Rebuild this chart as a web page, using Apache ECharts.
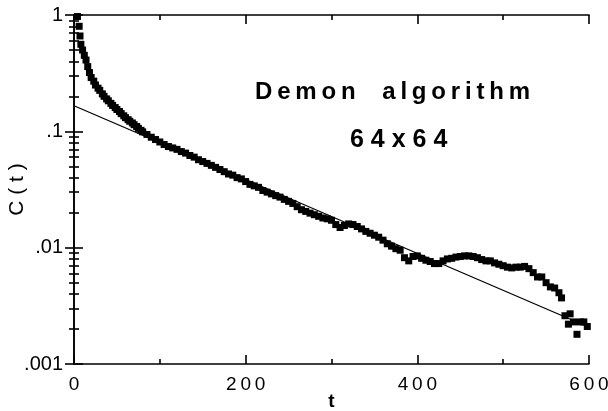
<!DOCTYPE html>
<html>
<head>
<meta charset="utf-8">
<script src="https://cdn.jsdelivr.net/npm/echarts@6/dist/echarts.min.js"></script>
<style>
  html, body { margin: 0; padding: 0; background: #fff; }
  #main { width: 608px; height: 411px; }
</style>
</head>
<body>
<div id="main"></div>
<script>
// 数据: 时间 t 与 相关函数 C(t)
var tValues = [4, 6, 7, 8, 10, 12, 14, 16, 18, 20, 23, 25, 28, 30, 33, 35, 38, 40, 43, 45, 48, 50, 53, 55, 58, 60, 63, 65, 68, 70, 73, 75, 78, 80, 85, 90,
  95, 100, 105, 110, 115, 120, 125, 130, 135, 140, 145, 150, 155, 160, 165, 170, 175, 180, 185, 190,
  195, 200, 205, 210, 215, 220, 225, 230, 235, 240, 245, 250, 255, 260, 265, 270, 275, 280, 285, 290,
  295, 300, 305, 310, 315, 320, 325, 330, 335, 340, 345, 350, 355, 360, 365, 370, 375, 380, 385, 390,
  395, 400, 405, 410, 415, 420, 425, 430, 435, 440, 445, 450, 455, 460, 465, 470, 475, 480, 485, 490,
  495, 500, 505, 510, 515, 520, 525, 530, 535, 540, 545, 550, 555, 560, 565, 568, 572, 576, 578, 582,
  586, 590, 594, 598];
var cValues = [0.97, 0.80, 0.66, 0.56, 0.50, 0.45, 0.41, 0.36, 0.32, 0.29, 0.27, 0.25, 0.235, 0.225, 0.21, 0.20, 0.19, 0.183, 0.174, 0.167, 0.160, 0.154, 0.148, 0.142, 0.136, 0.131, 0.126, 0.122, 0.118, 0.114, 0.110, 0.106, 0.102, 0.099, 0.094, 0.089,
  0.085, 0.081, 0.077, 0.074, 0.072, 0.070, 0.067, 0.065, 0.062, 0.060, 0.057, 0.055, 0.053, 0.051, 0.049, 0.047, 0.045, 0.043, 0.042, 0.040,
  0.039, 0.037, 0.035, 0.034, 0.033, 0.031, 0.030, 0.029, 0.028, 0.0272, 0.026, 0.025, 0.024, 0.0225, 0.0212, 0.0205, 0.0198, 0.0192, 0.0186, 0.018,
  0.0177, 0.0172, 0.0158, 0.0149, 0.0155, 0.0160, 0.0158, 0.0152, 0.0145, 0.0138, 0.0133, 0.0128, 0.0123, 0.0116, 0.0108, 0.0103, 0.0098, 0.0095, 0.0082, 0.0077,
  0.0084, 0.0085, 0.0081, 0.0078, 0.0076, 0.0073, 0.0073, 0.0077, 0.0080, 0.0081, 0.0083, 0.0084, 0.0085, 0.0085, 0.0084, 0.0082, 0.0079, 0.0077, 0.0077, 0.0074,
  0.0072, 0.0070, 0.0068, 0.0067, 0.0068, 0.0068, 0.0069, 0.0066, 0.0061, 0.0056, 0.0056, 0.0050, 0.0046, 0.0045, 0.0041, 0.0037, 0.0026, 0.0022, 0.0027, 0.0023,
  0.0018, 0.0023, 0.0023, 0.0021];

// 拟合直线 (对数坐标下的直线)
var fitT = [0, 600];
var fitC = [0.166, 0.00207];

// 刻度标签
var yLabels = { '0.001': '.001', '0.01': '.01', '0.1': '.1', '1': '1' };

var FONT = 'Liberation Sans';

function spaced(s) {
  return String(s).split('').join('\u2009');
}
// 每个轴单独一份, 共用对象会被改掉
function axisLineStyle() {
  return { color: '#000', width: 1.6 };
}

var scatterData = tValues.map(function (t, i) { return [t, cValues[i]]; });
var fitData = fitT.map(function (t, i) { return [t, fitC[i]]; });

var myChart = echarts.init(document.getElementById('main'));

function xAxisOf(pos, withLabel) {
  return {
    type: 'value', position: pos, min: 0, max: 600, interval: 200,
    axisLine: { show: true, lineStyle: axisLineStyle() },
    axisTick: { show: true, inside: true, length: 9, lineStyle: axisLineStyle() },
    minorTick: { show: true, splitNumber: 2, length: 5, lineStyle: axisLineStyle() },
    splitLine: { show: false },
    axisLabel: withLabel ? {
      color: '#000', fontFamily: FONT, fontSize: 19, margin: 11,
      formatter: function (v) { return spaced(v); }
    } : { show: false }
  };
}
function yAxisOf(pos, withLabel) {
  return {
    type: 'log', logBase: 10, position: pos, min: 0.001, max: 1,
    axisLine: { show: true, lineStyle: axisLineStyle() },
    axisTick: { show: true, inside: true, length: 9, lineStyle: axisLineStyle() },
    minorTick: { show: true, splitNumber: 9, length: 5, lineStyle: axisLineStyle() },
    splitLine: { show: false },
    axisLabel: withLabel ? {
      color: '#000', fontFamily: FONT, fontSize: 20, margin: 11,
      formatter: function (v) {
        var key = String(+v.toPrecision(3));
        return yLabels[key] !== undefined ? yLabels[key] : '';
      }
    } : { show: false }
  };
}

var xBottom = xAxisOf('bottom', true);
xBottom.name = 't';
xBottom.nameLocation = 'middle';
xBottom.nameGap = 28;
xBottom.nameMoveOverlap = false;
xBottom.nameTextStyle = { color: '#000', fontFamily: FONT, fontSize: 19, fontWeight: 'bold' };

var yLeft = yAxisOf('left', true);
yLeft.name = 'C ( t )';
yLeft.nameLocation = 'middle';
yLeft.nameGap = 46;
yLeft.nameRotate = 90;
yLeft.nameMoveOverlap = false;
yLeft.nameTextStyle = { color: '#000', fontFamily: FONT, fontSize: 21 };

var option = {
  animation: false,
  backgroundColor: '#fff',
  grid: { left: 74, right: 19, top: 15, bottom: 47, containLabel: false, outerBoundsMode: 'none' },
  xAxis: [xBottom, xAxisOf('top', false)],
  yAxis: [yLeft, yAxisOf('right', false)],
  graphic: [
    {
      type: 'text', left: 255, top: 80,
      style: {
        text: spaced('Demon') + '    ' + spaced('algorithm'),
        font: 'bold 24px "Liberation Sans"', fill: '#000'
      }
    },
    {
      type: 'text', left: 350, top: 128,
      style: {
        text: '6 4 x 6 4',
        font: 'bold 25px "Liberation Sans"', fill: '#000'
      }
    }
  ],
  series: [
    {
      type: 'line', xAxisIndex: 0, yAxisIndex: 0,
      data: fitData, showSymbol: false, symbol: 'none',
      lineStyle: { color: '#000', width: 1.3 }, z: 2
    },
    {
      type: 'scatter', xAxisIndex: 0, yAxisIndex: 0,
      data: scatterData, symbol: 'rect', symbolSize: 7,
      itemStyle: { color: '#000', opacity: 1 }, z: 3
    }
  ]
};

myChart.setOption(option);
</script>
</body>
</html>
